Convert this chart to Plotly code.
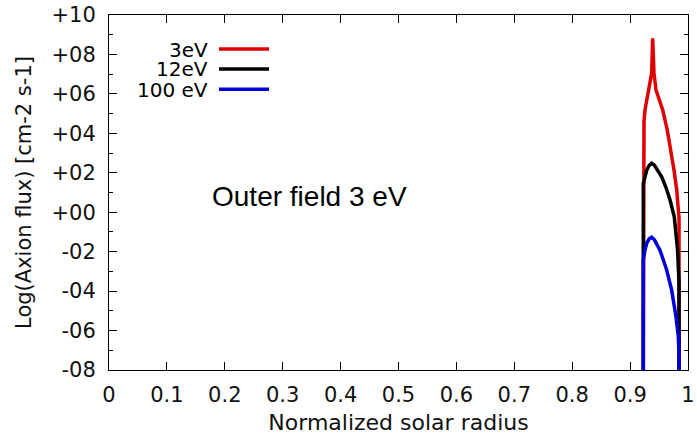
import plotly.graph_objects as go

# Axion flux profiles vs normalized solar radius (log10 values)
r_3ev = [0.9228, 0.9228, 0.9240, 0.9257, 0.9285, 0.9314, 0.9345, 0.9372, 0.9390, 0.9413,
         0.9447, 0.9500, 0.9563, 0.9642, 0.9706, 0.9758, 0.9805, 0.9830, 0.9845, 0.9845]
f_3ev = [-9.0, 4.1, 4.6, 5.18, 5.7, 6.2, 6.6, 7.04, 8.82, 7.04,
         6.2, 5.7, 5.18, 4.17, 3.15, 2.14, 1.13, 0.3, -0.3, -9.0]

r_12ev = [0.9228, 0.9228, 0.9257, 0.9290, 0.9330, 0.9372, 0.9420, 0.9480, 0.9545, 0.9620,
          0.9690, 0.9763, 0.9820, 0.9845, 0.9845]
f_12ev = [-9.0, 1.45, 1.80, 2.15, 2.38, 2.48, 2.38, 2.1, 1.80, 1.25,
          0.62, -0.23, -1.92, -3.6, -9.0]

r_100ev = [0.9228, 0.9228, 0.9257, 0.9290, 0.9330, 0.9372, 0.9420, 0.9516, 0.9632, 0.9718,
           0.9793, 0.9833, 0.9845, 0.9845]
f_100ev = [-9.0, -2.42, -1.92, -1.55, -1.35, -1.27, -1.4, -1.92, -2.93, -3.95,
           -5.30, -6.31, -7.3, -9.0]

series_names = ["3eV", "12eV", "100 eV"]
series_colors = ["#e00000", "#000000", "#0000dd"]

x_tickvals = [0, 0.1, 0.2, 0.3, 0.4, 0.5, 0.6, 0.7, 0.8, 0.9, 1]
x_ticktext = ["0", "0.1", "0.2", "0.3", "0.4", "0.5", "0.6", "0.7", "0.8", "0.9", "1"]
y_tickvals = [-8, -6, -4, -2, 0, 2, 4, 6, 8, 10]
y_ticktext = ["-08", "-06", "-04", "-02", "+00", "+02", "+04", "+06", "+08", "+10"]

FONT = "DejaVu Sans"

fig = go.Figure()
for (xs, ys), name, color in zip([(r_3ev, f_3ev), (r_12ev, f_12ev), (r_100ev, f_100ev)],
                                 series_names, series_colors):
    fig.add_trace(go.Scatter(x=xs, y=ys, mode="lines", name=name,
                             line=dict(color=color, width=3.5), showlegend=False))

# Key: label to the left of a short line sample
key_y = [0.904, 0.848, 0.791]
for name, color, ky in zip(series_names, series_colors, key_y):
    fig.add_annotation(xref="paper", yref="paper", x=0.1744, y=ky, text=name,
                       showarrow=False, xanchor="right", yanchor="middle", height=17,
                       font=dict(family=FONT, size=20, color="#000"))
    fig.add_shape(type="line", xref="paper", yref="paper", x0=0.19, x1=0.2763,
                  y0=ky, y1=ky, line=dict(color=color, width=3.5))

fig.add_annotation(x=0.1744, y=0.82, text="Outer field 3 eV", showarrow=False,
                   xanchor="left", yanchor="middle",
                   font=dict(family="Liberation Sans", size=28, color="#000"))

axis_common = dict(showline=True, linecolor="#000", linewidth=1, mirror="ticks",
                   ticks="inside", tickcolor="#000", tickwidth=1, ticklen=8,
                   showgrid=False, zeroline=False, automargin=False,
                   tickfont=dict(family=FONT, size=21, color="#111"))

fig.update_xaxes(range=[0, 1], tickvals=x_tickvals, ticktext=x_ticktext,
                 title=dict(text="Normalized solar radius",
                            font=dict(family=FONT, size=22, color="#111"), standoff=8),
                 ticklabelstandoff=6, **axis_common)
fig.update_yaxes(range=[-8, 10], tickvals=y_tickvals, ticktext=y_ticktext,
                 title=dict(text="Log(Axion flux) [cm-2 s-1]",
                            font=dict(family=FONT, size=21, color="#111"), standoff=14),
                 ticklabelstandoff=8,
                 minor=dict(tickvals=[-7, -5, -3, -1, 1, 3, 5, 7, 9], ticks="inside",
                            ticklen=4, tickcolor="#000", tickwidth=1, showgrid=False),
                 **axis_common)

fig.update_layout(width=697, height=435, plot_bgcolor="white", paper_bgcolor="white",
                  margin=dict(l=109, r=9, t=15, b=65), showlegend=False)

fig.write_html("out.html")
